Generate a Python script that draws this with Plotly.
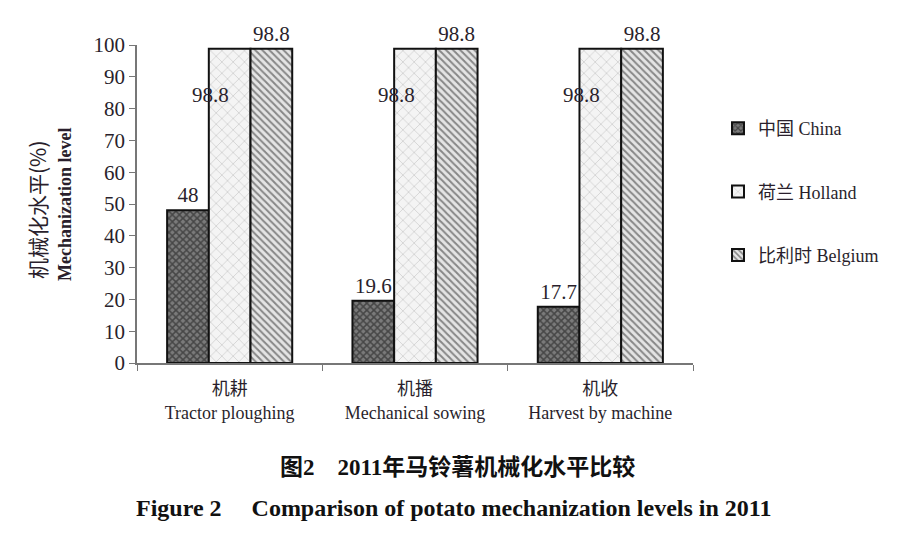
import plotly.graph_objects as go

categories = ["机耕<br>Tractor ploughing", "机播<br>Mechanical sowing", "机收<br>Harvest by machine"]
series_names = ["中国 China", "荷兰 Holland", "比利时 Belgium"]
china = [48, 19.6, 17.7]
holland = [98.8, 98.8, 98.8]
belgium = [98.8, 98.8, 98.8]
y_ticks = [0, 10, 20, 30, 40, 50, 60, 70, 80, 90, 100]

SERIF = "Liberation Serif, serif"
SERIF_CJK = "Liberation Serif, Noto Sans CJK SC"
TXT = "#2a1f2c"

W, H = 916, 546
L, R, T, B = 137, 223, 45, 183
PW, PH = W - L - R, H - T - B

def px_x(x):
    return (x - L) / PW

def px_y(y):
    return (H - B - y) / PH

fig = go.Figure()

styles = [
    dict(bg="#7a7a7a", fg="#111111", shape="x", size=5, solidity=0.5),
    dict(bg="#f4f4f4", fg="#a8a8a8", shape="x", size=8, solidity=0.18),
    dict(bg="#e4e4e4", fg="#2a2a2a", shape="\\", size=5, solidity=0.4),
]
values = [china, holland, belgium]
for i, (name, vals, st) in enumerate(zip(series_names, values, styles)):
    show_text = i != 1
    fig.add_trace(go.Bar(
        x=categories, y=vals, name=name,
        legendgroup=f"g{i}",
        marker=dict(
            color=st["bg"],
            line=dict(color="#111111", width=2),
            pattern=dict(shape=st["shape"], bgcolor=st["bg"], fgcolor=st["fg"],
                         size=st["size"], solidity=st["solidity"], fillmode="overlay"),
        ),
        text=[f"{v:g}" for v in vals] if show_text else None,
        textposition="outside" if show_text else "none",
        textfont=dict(family=SERIF, size=21, color=TXT),
        cliponaxis=False,
    ))

# Holland labels placed at left edge of its bars, below the top
for c, v in zip(categories, holland):
    fig.add_annotation(x=c, y=v, xref="x", yref="y", text=f"{v:g}", showarrow=False,
                       xshift=-19, yshift=-46,
                       font=dict(family=SERIF, size=21, color=TXT))

# y-axis titles
fig.add_annotation(xref="paper", yref="paper", x=px_x(37), y=px_y(210), text="机械化水平(%)",
                   textangle=-90, showarrow=False, xanchor="center", yanchor="middle",
                   font=dict(family="Noto Sans CJK SC", size=21, color=TXT))
fig.add_annotation(xref="paper", yref="paper", x=px_x(65), y=px_y(205), text="<b>Mechanization level</b>",
                   textangle=-90, showarrow=False, xanchor="center", yanchor="middle",
                   font=dict(family=SERIF, size=18, color=TXT))

# captions
fig.add_annotation(xref="paper", yref="paper", x=px_x(457), y=px_y(467),
                   text="<b>图2　2011年马铃薯机械化水平比较</b>", showarrow=False,
                   xanchor="center", yanchor="middle",
                   font=dict(family=SERIF_CJK, size=23, color="#111111"))
fig.add_annotation(xref="paper", yref="paper", x=px_x(454), y=px_y(508),
                   text="<b>Figure 2　 Comparison of potato mechanization levels in 2011</b>", showarrow=False,
                   xanchor="center", yanchor="middle",
                   font=dict(family=SERIF, size=24, color="#111111"))

fig.update_layout(
    width=W, height=H,
    margin=dict(l=L, r=R, t=T, b=B, pad=0),
    paper_bgcolor="white", plot_bgcolor="white",
    barmode="group", bargap=0.325, bargroupgap=0,
    showlegend=True,
    legend=dict(x=px_x(718), y=px_y(110), xanchor="left", yanchor="top",
                font=dict(family=SERIF_CJK, size=18, color=TXT),
                tracegroupgap=37, traceorder="grouped", bgcolor="rgba(0,0,0,0)"),
    font=dict(family=SERIF, color=TXT),
)
fig.update_xaxes(
    showline=True, linecolor="#777777", linewidth=1.5,
    ticks="outside", tickson="boundaries", ticklen=6, tickcolor="#777777",
    tickfont=dict(family=SERIF_CJK, size=18, color=TXT),
    ticklabelstandoff=9,
    showgrid=False, zeroline=False,
)
fig.update_yaxes(
    range=[0, 100], tickvals=y_ticks, showline=True, linecolor="#777777", linewidth=1.5,
    ticks="outside", ticklen=6, tickcolor="#777777",
    tickfont=dict(family=SERIF, size=21, color=TXT),
    showgrid=False, zeroline=False,
)

fig.write_html("out.html")
